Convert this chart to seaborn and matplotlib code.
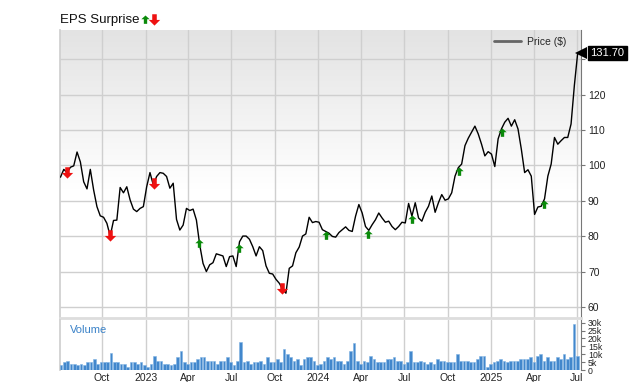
import numpy as np
import pandas as pd
import matplotlib
matplotlib.use("Agg")
import matplotlib.pyplot as plt
import seaborn as sns
from matplotlib.path import Path
from matplotlib.lines import Line2D
from matplotlib.colors import LinearSegmentedColormap
import matplotlib.transforms as mtransforms

# ---------------- data ----------------
price = [96.7, 98.9, 98.0, 99.5, 99.9, 103.8, 101.0, 95.4, 93.4, 98.9,
         93.1, 88.4, 85.8, 85.4, 83.7, 80.1, 84.5, 84.6, 93.8, 92.3,
         94.0, 90.3, 87.7, 87.0, 87.9, 88.4, 94.0, 98.0, 94.5, 96.9,
         98.0, 97.8, 96.9, 93.6, 95.0, 84.8, 81.8, 83.2, 87.9, 87.3,
         87.7, 84.6, 77.6, 72.4, 70.1, 72.0, 72.6, 75.1, 74.8, 74.5,
         71.5, 74.3, 74.5, 71.5, 78.5, 80.1, 80.1, 79.2, 77.1, 74.5,
         77.1, 76.0, 71.7, 69.6, 69.4, 67.9, 66.8, 65.1, 64.0, 71.0,
         71.7, 75.4, 77.0, 80.1, 80.7, 85.4, 83.9, 84.2,
         84.0, 81.9, 81.4, 80.9, 80.0, 79.8, 81.1, 81.9, 82.7, 81.7,
         81.4, 85.7, 89.0, 86.6, 82.8, 81.7, 83.3, 84.7, 86.6, 85.2,
         84.0, 84.3, 82.8, 81.9, 82.8, 84.0, 83.8, 89.3, 85.7, 89.5,
         85.2, 84.3, 86.8, 88.5, 91.4, 86.8, 89.5, 91.8, 90.2, 90.6,
         92.3, 97.0, 99.4, 100.4, 105.6, 107.7, 109.4, 111.1, 108.9, 106.0,
         102.7, 103.9, 103.2, 99.7, 107.5, 110.3, 112.2, 113.3, 111.1, 112.9,
         110.3, 104.6, 98.0, 98.8, 97.0, 86.2, 88.3, 88.5, 90.6, 97.0,
         100.4, 107.9, 106.0, 107.0, 107.9, 107.9, 111.7, 122.6, 131.7]
price_start, price_end = "2022-07-05", "2025-07-03"

volume_k = [3, 5, 6, 4, 4, 3, 4, 3, 5, 5, 7, 4, 5, 5, 5, 11, 5, 5, 4, 4,
            2, 5, 5, 4, 5, 3, 2, 4, 9, 6, 6, 4, 4, 3, 4, 8, 12, 5, 4, 5,
            5, 7, 8, 8, 6, 6, 6, 4, 6, 6, 8, 5, 3, 6, 18, 5, 6, 4, 5, 5,
            6, 4, 8, 5, 5, 7, 5, 13, 10, 8, 6, 7,
            3, 7, 8, 8, 6, 3, 4, 6, 8, 7, 8, 6, 6, 4, 6, 12, 17, 6, 4, 6,
            5, 9, 7, 5, 5, 5, 7, 7, 8, 6, 6, 4, 5, 12, 5, 5, 6, 5, 4, 5,
            4, 7, 6, 6, 5, 5, 5, 10, 6, 6, 6, 5, 5, 7, 9, 9, 2, 4, 5, 6,
            7, 6, 5, 6, 6, 6, 7, 7, 7, 8, 5, 9, 10, 6, 8, 6, 6, 8, 7, 10,
            7, 8, 29, 9]
volume_start, volume_end = "2022-07-06", "2025-07-02"

eps_dates = ["2022-07-19", "2022-10-18", "2023-01-18", "2023-04-24",
             "2023-07-18", "2023-10-17", "2024-01-17", "2024-04-16",
             "2024-07-18", "2024-10-25", "2025-01-24", "2025-04-23"]
eps_dir = ["down", "down", "down", "up", "up", "down",
           "up", "up", "up", "up", "up", "up"]

x_tick_dates = ["2022-10-01", "2023-01-01", "2023-04-01", "2023-07-01",
                "2023-10-01", "2024-01-01", "2024-04-01", "2024-07-01",
                "2024-10-01", "2025-01-01", "2025-04-01", "2025-07-01"]
x_tick_labels = ["Oct", "2023", "Apr", "Jul", "Oct", "2024", "Apr", "Jul",
                 "Oct", "2025", "Apr", "Jul"]
price_ticks = [60, 70, 80, 90, 100, 110, 120, 130]
price_tick_labels = ["60", "70", "80", "90", "100", "110", "120", ""]
vol_ticks = [0, 5, 10, 15, 20, 25, 30]
vol_tick_labels = ["0", "5k", "10k", "15k", "20k", "25k", "30k"]
last_price_label = "131.70"

# ---------------- style ----------------
sns.set_theme(style="white")
plt.rcParams["font.family"] = ["Liberation Sans", "DejaVu Sans"]

GREEN = "#0a8a0a"
RED = "#ee1111"
GRID = "#cfcfcf"

up_path = Path([(0, 0), (1.0, -0.9), (0.4, -0.9), (0.4, -2.0), (-0.4, -2.0),
                (-0.4, -0.9), (-1.0, -0.9), (0, 0)])
down_path = Path([(0, -0.9), (1.0, 0.1), (0.4, 0.1), (0.4, 1.1), (-0.4, 1.1),
                  (-0.4, 0.1), (-1.0, 0.1), (0, -0.9)])

df_p = pd.DataFrame({"date": pd.date_range(price_start, price_end, periods=len(price)),
                     "price": price})
df_v = pd.DataFrame({"date": pd.date_range(volume_start, volume_end, periods=len(volume_k)),
                     "vol": volume_k})

fig = plt.figure(figsize=(6.4, 3.82), dpi=100)
W, H = 640, 382
L, R = 60, 581
ax = fig.add_axes([L / W, 1 - 318 / H, (R - L) / W, 288 / H])
axv = fig.add_axes([L / W, 1 - 370 / H, (R - L) / W, 50 / H], sharex=ax)

# gradient background for price panel
grad = np.linspace(0, 1, 256).reshape(-1, 1)
cmap = LinearSegmentedColormap.from_list("g", [(0, "#e3e3e3"), (0.55, "#ffffff"), (1, "#ffffff")])
ax.imshow(grad, extent=[0, 1, 0, 1], transform=ax.transAxes, aspect="auto",
          cmap=cmap, zorder=-2, interpolation="bilinear")

sns.lineplot(data=df_p, x="date", y="price", ax=ax, color="black", lw=1.0,
             legend=False, zorder=3)

# EPS arrows
xnum = matplotlib.dates.date2num(df_p["date"])
for d, s in zip(eps_dates, eps_dir):
    dn = matplotlib.dates.date2num(pd.Timestamp(d))
    yv = np.interp(dn, xnum, df_p["price"])
    if s == "up":
        ax.plot([pd.Timestamp(d)], [yv], marker=up_path, ms=12, color=GREEN,
                mec=GREEN, mew=0, ls="none", zorder=4)
    else:
        ax.plot([pd.Timestamp(d)], [yv], marker=down_path, ms=9, color=RED,
                mec=RED, mew=0, ls="none", zorder=4)

# volume bars
axv.bar(df_v["date"], df_v["vol"], width=5.6, color="#4287cc",
        edgecolor="#7fb2e2", linewidth=0.4, zorder=3)

xmin = pd.Timestamp("2022-07-04")
xmax = pd.Timestamp("2025-07-10")
ax.set_xlim(xmin, xmax)
ax.set_ylim(57.0, 138.2)
axv.set_ylim(0, 31.7)

for a in (ax, axv):
    a.set_xticks(pd.to_datetime(x_tick_dates))
    a.grid(True, axis="x", color=GRID, lw=1)
    a.set_axisbelow(True)
    a.set_xlabel("")
    a.set_ylabel("")
    a.yaxis.tick_right()
    a.tick_params(axis="y", which="both", right=True, length=3, width=0.8,
                  color="#777777", labelsize=7.5, pad=2, labelcolor="#222222")
    a.spines["top"].set_visible(False)
    a.spines["left"].set_color(GRID)
    a.spines["right"].set_color("#777777")
    a.spines["right"].set_linewidth(0.8)
    a.set_facecolor("white")

ax.grid(True, axis="y", color=GRID, lw=1)
ax.set_yticks(price_ticks)
ax.set_yticklabels(price_tick_labels)
ax.spines["bottom"].set_color("#dddddd")
ax.spines["bottom"].set_linewidth(2)
ax.tick_params(axis="x", length=0, labelbottom=False)

axv.set_yticks(vol_ticks)
axv.set_yticklabels(vol_tick_labels)
axv.tick_params(axis="y", labelsize=6.3, pad=2)
axv.spines["bottom"].set_visible(False)
axv.set_xticklabels(x_tick_labels)
axv.tick_params(axis="x", length=0, labelsize=7.5, pad=2, labelcolor="#222222")
axv.text(0.019, 0.9, "Volume", transform=axv.transAxes, color="#3a82c8",
         fontsize=8, va="top", ha="left")

# legend
leg = ax.legend(handles=[Line2D([], [], color="#666666", lw=2)], labels=["Price ($)"],
                loc="upper right", frameon=False, fontsize=7.5, handlelength=2.6,
                handletextpad=0.6, borderaxespad=0.25, bbox_to_anchor=(0.985, 1.0))

# last price tag
last = price[-1]
trans = mtransforms.blended_transform_factory(ax.transAxes, ax.transData)
ax.plot([1.0], [last], marker="<", ms=9, color="black", transform=trans,
        clip_on=False, zorder=6, mew=0)
ax.text(1.0, last, last_price_label,
        transform=trans + mtransforms.ScaledTranslation(9.5 / 100, 0, fig.dpi_scale_trans),
        color="white", fontsize=8, va="center", ha="left", zorder=7,
        bbox=dict(boxstyle="square,pad=0.2", fc="black", ec="black"))

# title with arrows
t = fig.text(L / W, 1 - 20 / H, "EPS Surprise", fontsize=9.5, ha="left",
             va="center", color="#111111")
fig.canvas.draw()
bb = t.get_window_extent()
x_end = bb.x1 / (W)
fig.add_artist(Line2D([x_end + 5 / W], [1 - 15 / H], marker=up_path, ms=12,
                      color=GREEN, mew=0, ls="none", transform=fig.transFigure))
fig.add_artist(Line2D([x_end + 14 / W], [1 - 20 / H], marker=down_path, ms=9,
                      color=RED, mew=0, ls="none", transform=fig.transFigure))

fig.savefig("out.png", dpi=100)
